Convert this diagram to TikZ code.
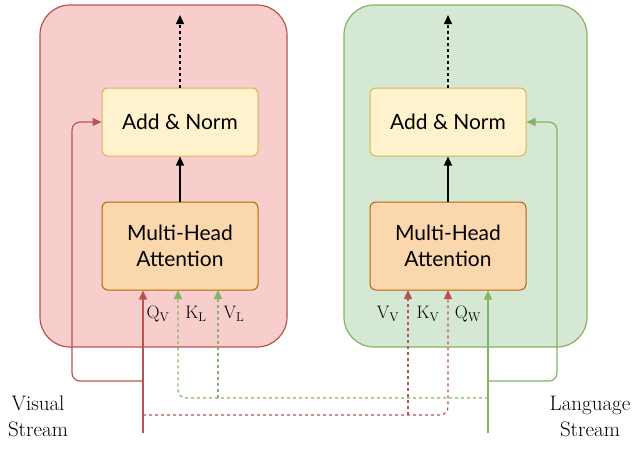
\documentclass[tikz,border=0pt]{standalone}
\usepackage{fontspec}
\newfontfamily\boxfont{Lato}
\usetikzlibrary{arrows.meta}
\definecolor{redfill}{HTML}{F8CECC}
\definecolor{redline}{HTML}{B85450}
\definecolor{greenfill}{HTML}{D5E8D4}
\definecolor{greenline}{HTML}{82B366}
\definecolor{yellowfill}{HTML}{FFF2CC}
\definecolor{yellowline}{HTML}{D6B656}
\definecolor{orangefill}{HTML}{FAD7AC}
\definecolor{orangeline}{HTML}{B46504}
\tikzstyle{arrow} = [line width=1.2pt,-{Triangle[length=9pt,width=8pt]}]
\tikzstyle{block} = [draw, rounded corners=6pt, minimum width=156pt, line width=1pt, font=\boxfont\fontsize{21}{26}\selectfont, align=center]

\begin{document}
\begin{tikzpicture}[x=1pt,y=-1pt]
            \useasboundingbox (0,0) rectangle (640,471);
            % Create the two stream layers
            \node[draw=redline, fill=redfill, line width=1.2pt, rounded corners=30pt, minimum width=247pt, minimum height=342pt] (vis) at (163.5,176) {};
            \node[draw=greenline, fill=greenfill, line width=1.2pt, rounded corners=30pt, minimum width=243pt, minimum height=342pt] (lang) at (465.5,176) {};
            \node[block, fill=yellowfill, draw=yellowline, minimum height=68pt] (addV) at (180,122) {Add \& Norm};
            \node[block, fill=orangefill, draw=orangeline, minimum height=88pt] (attV) at (180,246) {Multi-Head\\Attention};
            \node[block, fill=yellowfill, draw=yellowline, minimum height=68pt] (addL) at (448,122) {Add \& Norm};
            \node[block, fill=orangefill, draw=orangeline, minimum height=88pt] (attL) at (448,246) {Multi-Head\\Attention};
            \coordinate (outV) at (180,15);
            \coordinate (outL) at (448,15);

            % Stream inputs
            \node[font=\fontsize{21}{26}\selectfont, align=center] (visual) at (38,416) {Visual\\Stream};
            \node[font=\fontsize{21}{26}\selectfont, align=center] (language) at (590,416) {Language\\Stream};
            \coordinate (inV) at (143,433);
            \coordinate (inL) at (488,433);
            \coordinate (kl) at (178,290);
            \coordinate (vl) at (218,290);
            \coordinate (vv) at (408,290);
            \coordinate (kv) at (448,290);

            % Draw arrows inside the layers
            \draw[arrow] (attV) -- (addV);
            \draw[arrow] (attL) -- (addL);
            \draw[arrow, dashed] (addV) -- (outV);
            \draw[arrow, dashed] (addL) -- (outL);

            % Queries and residuals
            \draw[arrow, redline] (inV) -- (inV |- attV.south);
            \draw[arrow, greenline] (inL) -- (inL |- attL.south);
            \draw[arrow, redline, rounded corners=8pt] (143,381) -- (72,381) -- (72,122) -- (addV.west);
            \draw[arrow, greenline, rounded corners=8pt] (488,381) -- (557,381) -- (557,122) -- (addL.east);

            % Keys and values from the other stream
            \draw[arrow, greenline, dashed, rounded corners=8pt] (488,398) -- (178,398) -- (kl);
            \draw[arrow, greenline, dashed, rounded corners=8pt] (218,398) -- (vl);
            \draw[arrow, redline, dashed, rounded corners=8pt] (143,415) -- (448,415) -- (kv);
            \draw[arrow, redline, dashed, rounded corners=8pt] (408,415) -- (vv);

            % Labels
            \node[font=\fontsize{18}{20}\selectfont] (qvlabel) at (158,314) {Q$_\mathrm{V}$};
            \node[font=\fontsize{18}{20}\selectfont] (kllabel) at (196,314) {K$_\mathrm{L}$};
            \node[font=\fontsize{18}{20}\selectfont] (vllabel) at (234,314) {V$_\mathrm{L}$};
            \node[font=\fontsize{18}{20}\selectfont] (vvlabel) at (388,314) {V$_\mathrm{V}$};
            \node[font=\fontsize{18}{20}\selectfont] (kvlabel) at (428,314) {K$_\mathrm{V}$};
            \node[font=\fontsize{18}{20}\selectfont] (qwlabel) at (468,314) {Q$_\mathrm{W}$};
        \end{tikzpicture}
\end{document}
